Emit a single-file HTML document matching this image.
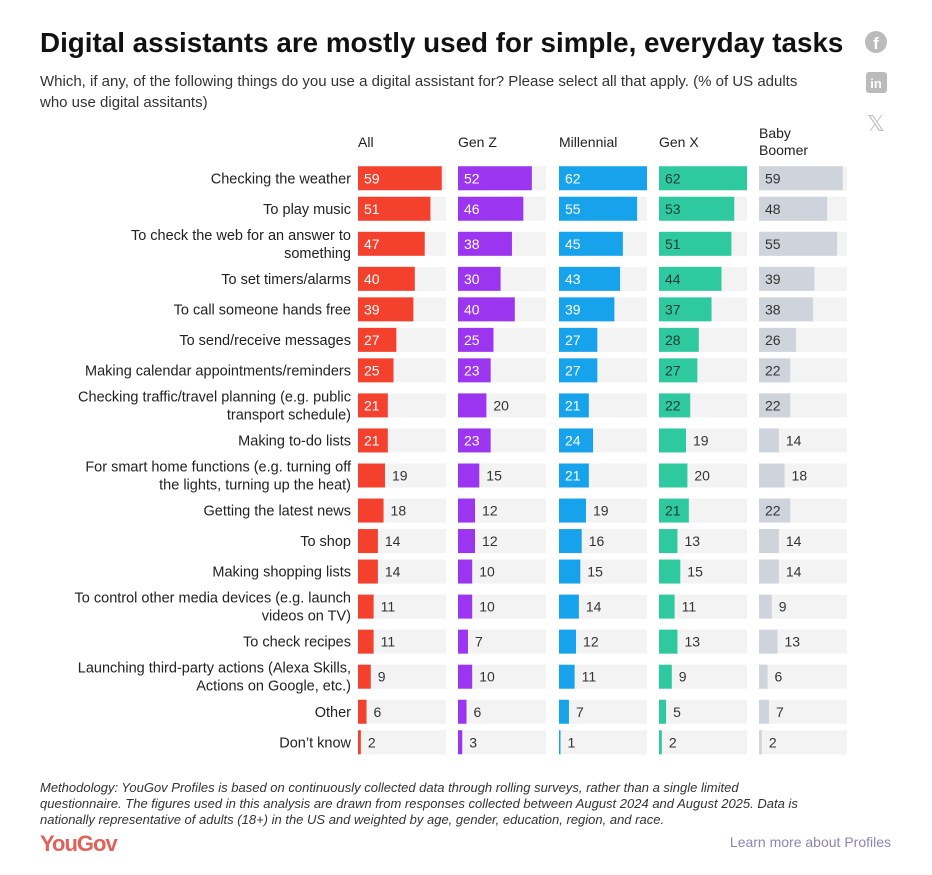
<!DOCTYPE html>
<html><head><meta charset="utf-8"><style>
body{margin:0;background:#fff;font-family:"Liberation Sans",sans-serif;}
svg text{font-family:"Liberation Sans",sans-serif;}
</style></head><body>
<svg id="c" width="932" height="870" xmlns="http://www.w3.org/2000/svg">
<text x="40" y="52" font-size="27.8" font-weight="bold" fill="#111">Digital assistants are mostly used for simple, everyday tasks</text>
<text x="40" y="86" font-size="15" fill="#333">Which, if any, of the following things do you use a digital assistant for? Please select all that apply. (% of US adults</text>
<text x="40" y="107" font-size="15" fill="#333">who use digital assitants)</text>
<g><circle cx="876" cy="42" r="11" fill="#bbb"/><text x="876" y="49" font-size="17" font-weight="bold" fill="#fff" text-anchor="middle">f</text></g>
<g><rect x="866" y="72" width="21" height="21" rx="3" fill="#bbb"/><text x="876" y="88" font-size="13" font-weight="bold" fill="#fff" text-anchor="middle">in</text></g>
<text x="876" y="131" font-size="22" fill="#bbb" text-anchor="middle">𝕏</text>
<g id="g"></g>
<text x="40" y="792" font-size="13" font-style="italic" fill="#333">Methodology: YouGov Profiles is based on continuously collected data through rolling surveys, rather than a single limited</text>
<text x="40" y="808" font-size="13" font-style="italic" fill="#333">questionnaire. The figures used in this analysis are drawn from responses collected between August 2024 and August 2025. Data is</text>
<text x="40" y="824" font-size="13" font-style="italic" fill="#333">nationally representative of adults (18+) in the US and weighted by age, gender, education, region, and race.</text>
<text x="40" y="851" font-size="22" font-weight="bold" fill="#e0625a" letter-spacing="-1">YouGov</text>
<text x="891" y="847" font-size="14" fill="#8a86b4" text-anchor="end">Learn more about Profiles</text>
</svg>
<script>
const categories=[["Checking the weather"],["To play music"],["To check the web for an answer to","something"],["To set timers/alarms"],["To call someone hands free"],["To send/receive messages"],["Making calendar appointments/reminders"],["Checking traffic/travel planning (e.g. public","transport schedule)"],["Making to-do lists"],["For smart home functions (e.g. turning off","the lights, turning up the heat)"],["Getting the latest news"],["To shop"],["Making shopping lists"],["To control other media devices (e.g. launch","videos on TV)"],["To check recipes"],["Launching third-party actions (Alexa Skills,","Actions on Google, etc.)"],["Other"],["Don’t know"]];
const seriesNames=["All","Gen Z","Millennial","Gen X","Baby Boomer"];
const allVals=[59,51,47,40,39,27,25,21,21,19,18,14,14,11,11,9,6,2];
const genZVals=[52,46,38,30,40,25,23,20,23,15,12,12,10,10,7,10,6,3];
const millVals=[62,55,45,43,39,27,27,21,24,21,19,16,15,14,12,11,7,1];
const genXVals=[62,53,51,44,37,28,27,22,19,20,21,13,15,11,13,9,5,2];
const boomVals=[59,48,55,39,38,26,22,22,14,18,22,14,14,9,13,6,7,2];
const series=[allVals,genZVals,millVals,genXVals,boomVals];
const colors=["#f4412e","#9b35f0","#16a3ec","#2fc9a0","#cfd3dc"];
const textIn=["#fff","#fff","#fff","#1d3d35","#333"];
const colX=[358,458,559,659,759];
const trackW=88, barH=24;
const xs=v=>v*1.42;
const ns="http://www.w3.org/2000/svg";
const g=document.getElementById('g');
function mk(t,a){const e=document.createElementNS(ns,t);for(const k in a)e.setAttribute(k,a[k]);return e;}
seriesNames.forEach((n,j)=>{
  const parts=n==="Baby Boomer"?["Baby","Boomer"]:[n];
  parts.forEach((p,k)=>{const t=mk('text',{x:colX[j],y:(parts.length>1?138:147)+k*17,'font-size':14,fill:'#222'});
  
  
  t.textContent=p;g.appendChild(t);});
});
let y=166;
categories.forEach((c,i)=>{
  const h=c.length>1?39.6:30.5;
  const cy=y+h/2-3;
  c.forEach((line,k)=>{const t=mk('text',{x:351,y:cy+5+(c.length>1?(k-0.5)*18:0),'font-size':14.5,fill:'#222','text-anchor':'end'});
    
    
    t.textContent=line;g.appendChild(t);});
  series.forEach((vals,j)=>{
    const v=vals[i];
    const tr=mk('rect',{x:colX[j],y:cy-barH/2,width:trackW,height:barH,fill:'#f3f3f4'});
    
    
    g.appendChild(tr);
    const w=Math.max(1.5,xs(v));
    const b=mk('rect',{x:colX[j],y:cy-barH/2,width:w,height:barH,fill:colors[j]});
    
    
    g.appendChild(b);
    const inside=v>=21;
    const t=mk('text',{x:inside?colX[j]+6:colX[j]+w+7,y:cy+5,'font-size':14,fill:inside?textIn[j]:'#333'});
    
    
    t.textContent=v;g.appendChild(t);
  });
  y+=h;
});
</script>
</body></html>
